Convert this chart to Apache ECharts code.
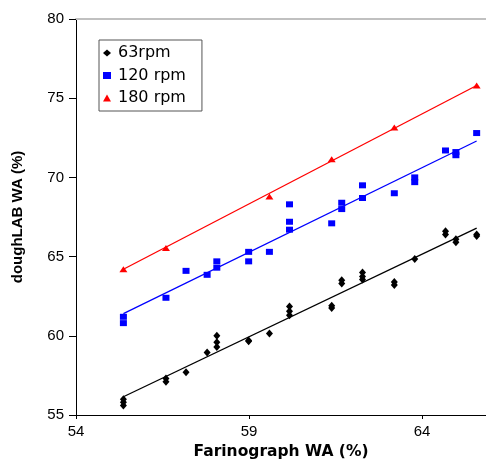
<!DOCTYPE html>
<html>
<head>
<meta charset="utf-8">
<script src="https://cdn.jsdelivr.net/npm/echarts@6/dist/echarts.min.js"></script>
<style>html,body{margin:0;padding:0;background:#fff}#c{width:486px;height:459px}</style>
</head>
<body>
<div id="c"></div>
<script>
// 63 rpm
const rpm63X = [55.37,55.37,55.37,56.6,56.6,57.18,57.79,58.07,58.07,58.07,58.99,58.99,59.59,60.17,60.17,60.17,61.39,61.39,61.68,61.68,62.28,62.28,62.28,63.2,63.2,63.79,64.68,64.68,64.98,64.98,65.58,65.58];
const rpm63Y = [55.6,55.8,56.0,57.1,57.3,57.7,58.95,59.3,59.6,60.0,59.65,59.7,60.15,61.3,61.55,61.85,61.75,61.9,63.3,63.5,63.55,63.75,64.0,63.2,63.4,64.85,66.4,66.6,65.9,66.1,66.3,66.4];
// 120 rpm
const rpm120X = [55.37,55.37,56.6,57.18,57.79,58.07,58.07,58.99,58.99,59.59,60.17,60.17,60.17,61.39,61.68,61.68,62.28,62.28,63.2,63.79,63.79,64.68,64.98,64.98,65.58];
const rpm120Y = [60.8,61.2,62.4,64.1,63.85,64.3,64.7,64.7,65.3,65.3,66.7,67.2,68.3,67.1,68.0,68.4,68.7,69.5,69.0,69.7,70.0,71.7,71.4,71.6,72.8];
// 180 rpm
const rpm180X = [55.37,56.6,59.59,61.39,63.2,65.58];
const rpm180Y = [64.2,65.55,68.8,71.15,73.15,75.8];
// trend line endpoints
const fit63 = [[55.37,56.15],[65.58,66.8]];
const fit120 = [[55.37,61.4],[65.58,72.3]];
const fit180 = [[55.37,64.2],[65.58,75.8]];
const xTicks = [54,59,64];
const seriesNames = ['63rpm','120 rpm','180 rpm'];

const zip = (a,b)=>a.map((v,i)=>[v,b[i]]);
const font = 'Arial, "Liberation Sans", sans-serif';

const chart = echarts.init(document.getElementById('c'), null, {renderer:'canvas'});
chart.setOption({
  animation:false,
  backgroundColor:'#fff',
  grid:{left:76, top:19, right:0, bottom:44, containLabel:false, outerBoundsMode:'none'},
  legend:{
    orient:'vertical', left:99, top:40, padding:[4,16,4,4],
    borderColor:'#555', borderWidth:1, itemGap:4.5, itemWidth:8, itemHeight:7,
    data:[
      {name:seriesNames[0], icon:'diamond'},
      {name:seriesNames[1], icon:'rect'},
      {name:seriesNames[2], icon:'triangle'}
    ],
    textStyle:{fontFamily:'"DejaVu Sans", sans-serif', fontSize:16, lineHeight:18, color:'#000', padding:[0,0,0,2]}
  },
  xAxis:[{
    type:'value', min:54, max:65.85, interval:5,
    name:'Farinograph WA (%)', nameLocation:'middle', nameGap:25,
    nameTextStyle:{fontFamily:'"DejaVu Sans", sans-serif', fontWeight:'bold', fontSize:15.5, color:'#000'},
    axisLine:{show:true, onZero:false, lineStyle:{color:'#000', width:1}},
    axisTick:{show:true, length:4, customValues:xTicks, lineStyle:{color:'#000'}},
    axisLabel:{customValues:xTicks, fontFamily:font, fontSize:15, color:'#000', margin:9},
    splitLine:{show:false}
  },{
    type:'value', position:'top', min:54, max:65.85,
    axisLine:{show:true, lineStyle:{color:'#c0c0c0', width:2}},
    axisTick:{show:false}, axisLabel:{show:false}, splitLine:{show:false}
  }],
  yAxis:{
    type:'value', min:55, max:80, interval:5,
    name:'doughLAB WA (%)', nameLocation:'middle', nameGap:51, nameRotate:90,
    nameTextStyle:{fontFamily:font, fontWeight:'bold', fontSize:15, color:'#000'},
    axisLine:{show:true, onZero:false, lineStyle:{color:'#000', width:1}},
    axisTick:{show:true, length:7, lineStyle:{color:'#000'}},
    axisLabel:{fontFamily:font, fontSize:15, color:'#000', margin:12},
    splitLine:{show:false}
  },
  series:[
    {type:'line', data:fit63, symbol:'none', lineStyle:{color:'#000', width:1.3}, silent:true, z:1},
    {type:'line', data:fit120, symbol:'none', lineStyle:{color:'#0000ff', width:1.3}, silent:true, z:1},
    {type:'line', data:fit180, symbol:'none', lineStyle:{color:'#ff0000', width:1.3}, silent:true, z:1},
    {name:seriesNames[0], type:'scatter', data:zip(rpm63X,rpm63Y), symbol:'diamond', symbolSize:[7,8], itemStyle:{color:'#000', opacity:1}, z:3},
    {name:seriesNames[1], type:'scatter', data:zip(rpm120X,rpm120Y), symbol:'rect', symbolSize:[7,6], itemStyle:{color:'#0000ff', opacity:1}, z:3},
    {name:seriesNames[2], type:'scatter', data:zip(rpm180X,rpm180Y), symbol:'triangle', symbolSize:[8,6], itemStyle:{color:'#ff0000', opacity:1}, z:3}
  ]
});
</script>
</body>
</html>
